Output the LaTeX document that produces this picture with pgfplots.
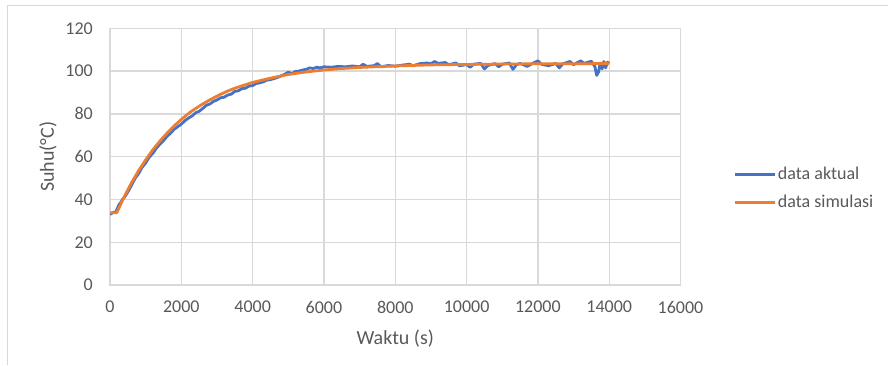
\documentclass[border=0pt]{standalone}
\usepackage{pgfplots}
\pgfplotsset{compat=1.18}
\usepackage{fontspec}
\setmainfont{Carlito}
\definecolor{xlblue}{HTML}{4472C4}
\definecolor{xlorange}{HTML}{ED7D31}
\definecolor{xlgrid}{HTML}{D9D9D9}
\definecolor{xltext}{HTML}{595959}
\begin{document}
\begin{tikzpicture}
\path[use as bounding box] (0pt,0pt) rectangle (888pt,365pt);
\draw[xlgrid, line width=1pt] (7pt,0pt) -- (7pt,359pt) -- (888pt,359pt);
\begin{axis}[
  at={(110pt,80pt)}, anchor=south west,
  scale only axis, width=570.5pt, height=256.7pt,
  xmin=0, xmax=16000, ymin=0, ymax=120,
  xtick={0,2000,...,16000}, ytick={0,20,...,120},
  scaled x ticks=false,
  /pgf/number format/assume math mode=true,
  /pgf/number format/set thousands separator={},
  major tick length=0pt,
  tick style={draw=none},
  grid=major,
  major grid style={xlgrid, line width=1.3pt},
  axis line style={xlgrid, line width=1.3pt},
  tick label style={font=\fontsize{18}{21}\selectfont, text=xltext, inner sep=0pt},
  xticklabel style={anchor=north, yshift=-16pt},
  yticklabel style={anchor=east, xshift=-17pt},
  xlabel={Waktu (s)}, ylabel={Suhu(°C)},
  label style={font=\fontsize{20}{24}\selectfont, text=xltext},
  xlabel style={at={(axis description cs:0.5,-0.2104)}, anchor=center},
  ylabel style={at={(axis description cs:-0.1087,0.5)}, anchor=center, rotate=0},
  legend style={at={(axis description cs:1.092,0.376)}, anchor=west, draw=none, fill=none,
    font=\fontsize{18}{21}\selectfont, text=xltext, inner sep=0pt, row sep=10pt,
    legend cell align=left},
  legend image code/.code={\draw[#1, line width=2.8pt] (0pt,0pt) -- (40pt,0pt);},
]
\addplot[xlblue, line width=2.8pt, line join=round] coordinates {
(0,33.0)(50,33.5)(100,34.0)(150,33.8)(200,35.5)(250,37.5)(300,38.5)(350,40.0)(400,40.8)
(500,43.5)(600,46.5)(700,49.8)(800,52.0)(900,55.0)(1000,57.0)(1100,59.8)(1200,61.5)
(1300,64.0)(1400,65.8)(1500,67.5)(1600,69.5)(1700,71.0)(1800,72.8)(1900,74.0)(2000,75.2)
(2100,76.8)(2200,78.0)(2300,79.0)(2400,80.5)(2500,81.2)(2600,82.5)(2700,84.0)(2800,84.6)
(2900,85.8)(3000,86.5)(3100,87.5)(3200,87.8)(3300,88.8)(3400,89.2)(3500,90.5)(3600,90.8)
(3700,91.8)(3800,92.0)(3900,93.0)(4000,93.2)(4100,94.2)(4200,94.5)(4300,95.0)(4400,95.8)
(4500,96.0)(4600,96.5)(4700,97.0)(4800,97.8)(4900,98.5)(5000,99.5)(5100,98.8)(5200,99.8)
(5300,100.0)(5400,100.5)(5500,100.8)(5600,101.5)(5700,101.2)(5800,101.8)(5900,101.5)(6000,102.0)
(6200,101.8)(6400,102.2)(6600,102.0)(6800,102.4)(7000,102.0)(7100,103.2)(7200,102.2)(7400,102.5)
(7500,103.5)(7600,102.0)(7800,102.6)(8000,102.3)(8200,102.8)(8400,103.2)(8500,102.5)(8700,103.5)
(8900,103.8)(9000,103.4)(9100,104.5)(9200,103.6)(9400,104.0)(9500,103.0)(9700,103.8)(9800,102.5)
(10000,103.0)(10100,101.8)(10200,103.2)(10400,103.6)(10500,101.0)(10600,102.6)(10800,103.5)(10900,102.0)
(11000,103.2)(11200,103.8)(11300,100.8)(11400,103.0)(11500,103.6)(11700,102.2)(11900,104.0)(12000,104.8)
(12100,103.2)(12300,102.5)(12500,103.6)(12600,101.5)(12700,103.4)(12900,104.5)(13000,103.0)(13200,104.8)
(13300,103.6)(13500,104.6)(13600,102.0)(13650,98.0)(13700,99.5)(13750,103.8)(13800,101.0)(13850,104.5)
(13900,101.5)(13950,104.2)(14000,103.5)
};
\addlegendentry{data aktual}
\addplot[xlorange, line width=2.8pt, line join=round] coordinates {
(0,33.8)(190,33.8)(400,41.3)(600,47.7)(800,53.4)(1000,58.5)(1200,63.2)(1400,67.3)(1600,71.0)
(1800,74.4)(2000,77.4)(2250,80.8)(2500,83.6)(2750,86.1)(3000,88.3)(3250,90.3)(3500,92.0)
(4000,94.7)(4500,96.7)(5000,98.4)(5500,99.6)(6000,100.5)(6500,101.2)(7000,101.7)(8000,102.4)
(9000,102.9)(10000,103.1)(11000,103.3)(12000,103.4)(13000,103.45)(14000,103.5)
};
\addlegendentry{data simulasi}
\end{axis}
\end{tikzpicture}
\end{document}
